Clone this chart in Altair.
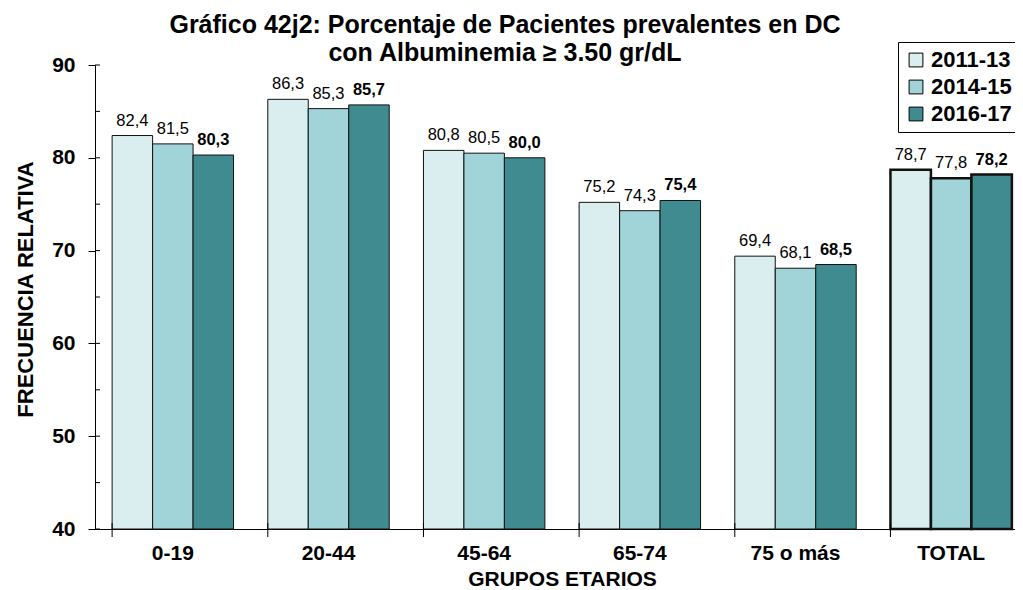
import altair as alt
import pandas as pd

categories = ["0-19", "20-44", "45-64", "65-74", "75 o más", "TOTAL"]
series_names = ["2011-13", "2014-15", "2016-17"]
s_2011_13 = [82.4, 86.3, 80.8, 75.2, 69.4, 78.7]
s_2014_15 = [81.5, 85.3, 80.5, 74.3, 68.1, 77.8]
s_2016_17 = [80.3, 85.7, 80.0, 75.4, 68.5, 78.2]
colors = ["#DAEDEF", "#A1D4D8", "#3F8B90"]
minor_ticks = [45, 55, 65, 75, 85]
major_ticks = [40, 50, 60, 70, 80, 90]

rows = []
for name, vals in zip(series_names, [s_2011_13, s_2014_15, s_2016_17]):
    for c, v in zip(categories, vals):
        rows.append({"cat": c, "serie": name, "v": v})
df = pd.DataFrame(rows)

FONT = "Liberation Sans"
W_RANGE = 934

xscale = alt.Scale(domain=categories, range=[0, W_RANGE], paddingInner=0.22, paddingOuter=0.11)
yscale = alt.Scale(domain=[40, 90], nice=False, zero=False)
offscale = alt.Scale(domain=series_names, paddingInner=0, paddingOuter=0)

base = alt.Chart(df)

bars = base.mark_bar(stroke="#111111", clip=False).encode(
    x=alt.X("cat:N", scale=xscale, sort=categories,
            axis=alt.Axis(title="GRUPOS ETARIOS", labelFontSize=21, labelFontWeight="bold",
                          titleFontSize=21, titleFontWeight="bold", ticks=False,
                          labelAngle=0, labelPadding=13, titlePadding=5,
                          domainColor="black", labelColor="black", titleColor="black")),
    xOffset=alt.XOffset("serie:N", scale=offscale, sort=series_names),
    y=alt.Y("v:Q", scale=yscale,
            axis=alt.Axis(title="FRECUENCIA RELATIVA", values=major_ticks, grid=False,
                          labelFontSize=21, labelFontWeight="bold", tickSize=7,
                          titleFontSize=22, titleFontWeight="bold", labelPadding=13,
                          titlePadding=14, titleY=224, domainColor="black", tickColor="black",
                          labelColor="black", titleColor="black")),
    y2=alt.datum(40),
    fill=alt.Fill("serie:N", scale=alt.Scale(domain=series_names, range=colors),
                  legend=alt.Legend(title=None, orient="none", legendX=803, legendY=-23,
                                    labelFontSize=22, labelFontWeight="bold",
                                    symbolType="square", symbolSize=190,
                                    symbolStrokeColor="black", symbolStrokeWidth=1,
                                    strokeColor="black", padding=7, rowPadding=5,
                                    labelOffset=4, labelColor="black")),
    strokeWidth=alt.condition(alt.datum.cat == "TOTAL", alt.value(2.5), alt.value(1)),
)

lab_base = base.transform_calculate(
    lbl="replace(format(datum.v, '.1f'), '.', ',')"
)
labels_norm = lab_base.transform_filter(alt.datum.serie != "2016-17").mark_text(
    baseline="alphabetic", dy=-10, fontSize=16.5, font=FONT, color="black"
).encode(
    x=alt.X("cat:N", scale=xscale, sort=categories),
    xOffset=alt.XOffset("serie:N", scale=offscale, sort=series_names),
    y=alt.Y("v:Q", scale=yscale),
    text="lbl:N",
)
labels_bold = lab_base.transform_filter(alt.datum.serie == "2016-17").mark_text(
    baseline="alphabetic", dy=-10, fontSize=16.5, font=FONT, fontWeight="bold", color="black"
).encode(
    x=alt.X("cat:N", scale=xscale, sort=categories),
    xOffset=alt.XOffset("serie:N", scale=offscale, sort=series_names),
    y=alt.Y("v:Q", scale=yscale),
    text="lbl:N",
)

xticks = alt.Chart(pd.DataFrame({"cat": categories})).mark_rule(color="black", strokeWidth=1).encode(
    x=alt.X("cat:N", scale=xscale, sort=categories, bandPosition=0),
    y=alt.value(458),
    y2=alt.value(472),
)

yminor = alt.Chart(pd.DataFrame({"t": minor_ticks + major_ticks})).mark_rule(color="black", strokeWidth=1).encode(
    y=alt.Y("t:Q", scale=yscale),
    x=alt.value(0),
    x2=alt.value(5),
)

chart = alt.layer(bars, labels_norm, labels_bold, xticks, yminor).properties(
    width=920, height=464,
    autosize=alt.AutoSizeParams(type="none"),
    padding={"left": 87, "top": 57, "right": 0, "bottom": 70},
    title=alt.Title(["Gráfico 42j2: Porcentaje de Pacientes prevalentes en DC",
                     "con Albuminemia ≥ 3.50 gr/dL"],
                    fontSize=25, fontWeight="bold", font=FONT, color="black",
                    anchor="middle", dx=-50, offset=-24, lineHeight=28),
).configure(font=FONT, background="white").configure_view(stroke=None)

chart.save("out.html", embed_options={"renderer": "svg", "actions": False})
